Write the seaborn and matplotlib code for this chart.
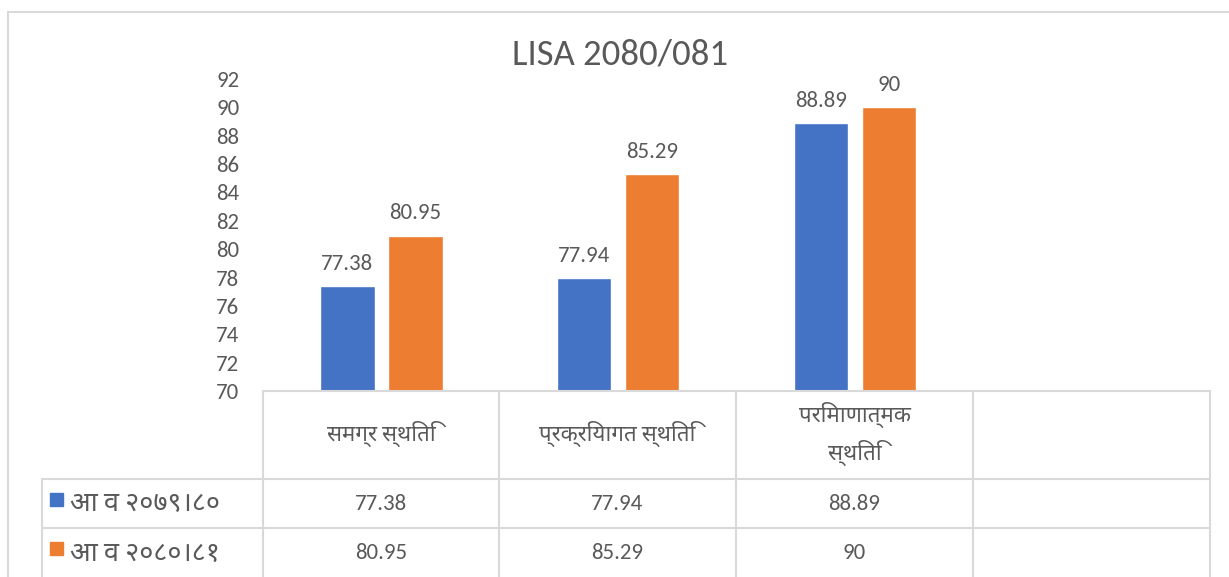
import matplotlib
matplotlib.use("Agg")
import matplotlib.pyplot as plt
import pandas as pd
import seaborn as sns
from matplotlib import font_manager
from matplotlib.lines import Line2D

# ---- data ----
categories = ["समग्र स्थिति", "प्रक्रियागत स्थिति", "परिमाणात्मक\nस्थिति"]
series_names = ["आ व २०७९।८०", "आ व २०८०।८१"]
values_7980 = [77.38, 77.94, 88.89]
values_8081 = [80.95, 85.29, 90]
colors = ["#4472C4", "#ED7D31"]
yticks = list(range(70, 93, 2))
title = "LISA 2080/081"

df = pd.DataFrame({
    "category": categories * 2,
    "series": [series_names[0]] * 3 + [series_names[1]] * 3,
    "value": values_7980 + values_8081,
})

# ---- style / fonts ----
sns.set_theme(style="white")
have = {f.name for f in font_manager.fontManager.ttflist}
fams = [n for n in ["Carlito", "Noto Sans Devanagari", "Open Sans", "DejaVu Sans"] if n in have]
plt.rcParams["font.family"] = fams
txt = "#595959"
grid = "#d9d9d9"

W, H = 1229, 577
fig = plt.figure(figsize=(W / 100, H / 100), dpi=100)
fig.patch.set_facecolor("white")


def fx(px):
    return px / W


def fy(py):
    return 1 - py / H


ax = fig.add_axes([fx(263), fy(391), fx(1210) - fx(263), fy(79) - fy(391)])

sns.barplot(data=df, x="category", y="value", hue="series", order=categories,
            hue_order=series_names, palette=colors, width=0.575, gap=0.2,
            saturation=1, legend=False, ax=ax)

for cont in ax.containers:
    ax.bar_label(cont, fmt="{:g}", padding=9, fontsize=16.5, color=txt)

ax.set_xlim(-0.5, 3.5)
ax.set_ylim(70, 92)
ax.set_yticks(yticks)
ax.set_yticklabels([str(t) for t in yticks], fontsize=16.5, color=txt)
ax.tick_params(axis="y", length=0, pad=17)
ax.set_xticks([])
ax.set_xlabel("")
ax.set_ylabel("")
for s in ax.spines.values():
    s.set_visible(False)
ax.patch.set_alpha(0)

fig.text(fx(620), fy(55), title, ha="center", va="center", fontsize=26.5, color=txt)

# ---- outer chart border ----
fig.add_artist(Line2D([fx(8), fx(8)], [fy(12), fy(577)], color=grid, lw=1.5))
fig.add_artist(Line2D([fx(8), fx(1229)], [fy(12), fy(12)], color=grid, lw=1.5))

# ---- data table ----
col_edges = [263, 499, 736, 973, 1210]
fig.add_artist(Line2D([fx(263), fx(1210)], [fy(391), fy(391)], color=grid, lw=1.5))
for yy in (479, 528):
    fig.add_artist(Line2D([fx(42), fx(1210)], [fy(yy), fy(yy)], color=grid, lw=1.5))
for xx in col_edges:
    fig.add_artist(Line2D([fx(xx), fx(xx)], [fy(391), fy(577)], color=grid, lw=1.5))
fig.add_artist(Line2D([fx(42), fx(42)], [fy(479), fy(577)], color=grid, lw=1.5))

for i, cat in enumerate(categories):
    cx = (col_edges[i] + col_edges[i + 1]) / 2
    fig.text(fx(cx), fy(434), cat, ha="center", va="center", fontsize=16,
             color=txt, linespacing=1.6)
    fig.text(fx(cx), fy(504), f"{values_7980[i]:g}", ha="center", va="center",
             fontsize=16.5, color=txt)
    fig.text(fx(cx), fy(553), f"{values_8081[i]:g}", ha="center", va="center",
             fontsize=16.5, color=txt)

for name, col, yy in zip(series_names, colors, (504, 553)):
    fig.add_artist(plt.Rectangle((fx(50), fy(yy + 2)), fx(13), fy(0) - fy(13),
                                 color=col, transform=fig.transFigure))
    fig.text(fx(70), fy(yy), name, ha="left", va="center", fontsize=19.5, color=txt)

fig.savefig("out.png", dpi=100)
